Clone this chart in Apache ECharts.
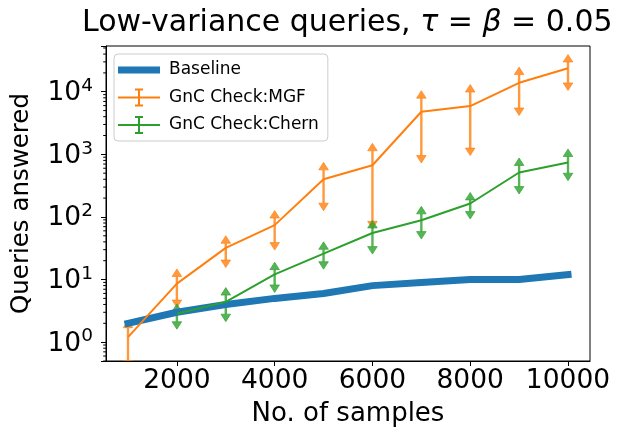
<!DOCTYPE html>
<html>
<head>
<meta charset="utf-8">
<script src="https://cdn.jsdelivr.net/npm/echarts@6/dist/echarts.min.js"></script>
<style>html,body{margin:0;padding:0;background:#fff}#c{width:618px;height:429px}</style>
</head>
<body>
<div id="c"></div>
<script>
const samples   = [1000, 2000, 3000, 4000, 5000, 6000, 7000, 8000, 9000, 10000];
const baseline  = [2, 3, 4, 5, 6, 8, 9, 10, 10, 12];
const mgf       = [1.2, 8.6, 32, 74, 400, 670, 4800, 5900, 13900, 23700];
const mgfLow    = [0.51, 4.7, 20.5, 39, 166, 85, 960, 1260, 5500, 13800];
const mgfHigh   = [1.7, 11.2, 38, 96, 565, 1140, 7900, 9900, 18800, 29900];
const chern     = [null, 2.85, 4.4, 12.1, 26, 55.5, 88.5, 164, 513, 742];
const chernLow  = [null, 2.12, 2.8, 8.2, 19.3, 33.6, 58.4, 122, 306, 500];
const chernHigh = [null, 3.1, 5.65, 14.4, 30.4, 66.7, 112, 187, 664, 925];
const xTicks    = [2000, 4000, 6000, 8000, 10000];
const seriesNames = ['Baseline', 'GnC Check:MGF', 'GnC Check:Chern'];
const titleText = 'Low-variance queries, ';
const xName = 'No. of samples';
const yName = 'Queries answered';

const X_MIN = 550, X_MAX = 10450, Y_MIN = 0.5, Y_MAX = 53800;
const FONT = 'DejaVu Sans';
const C_BLUE = '#1f77b4', C_ORANGE = '#ff7f0e', C_GREEN = '#2ca02c';

// minor log ticks (2..9 x 10^n) inside the y range
const yMinorTicks = [];
for (let e = -1; e <= 4; e++) {
  for (let k = 2; k <= 9; k++) {
    const v = k * Math.pow(10, e);
    if (v >= Y_MIN && v <= Y_MAX) yMinorTicks.push(v);
  }
}

function pairs(ys) {
  return samples.map((x, i) => [x, ys[i]]).filter(r => r[1] != null);
}
function errRows(lo, hi) {
  return samples.map((x, i) => [x, lo[i], hi[i]]).filter(r => r[1] != null);
}
function errRender(color) {
  return function (params, api) {
    const x = api.value(0), lo = api.value(1), hi = api.value(2);
    const a = api.coord([x, lo]);
    const b = api.coord([x, hi]);
    const w = 4.8, h = 7.5;
    return {
      type: 'group',
      children: [
        { type: 'line', shape: { x1: a[0], y1: a[1], x2: b[0], y2: b[1] },
          style: { stroke: color, lineWidth: 2.4, opacity: 0.8 } },
        { type: 'polygon', shape: { points: [[b[0] - w, b[1]], [b[0] + w, b[1]], [b[0], b[1] - h]] },
          style: { fill: color, stroke: color, lineWidth: 0.8, opacity: 0.8 } },
        { type: 'polygon', shape: { points: [[a[0] - w, a[1]], [a[0] + w, a[1]], [a[0], a[1] + h]] },
          style: { fill: color, stroke: color, lineWidth: 0.8, opacity: 0.8 } }
      ]
    };
  };
}

const errIcon = 'path://M0,8H42V10H0Z M20,0H22V18H20Z M17,0H25V2H17Z M17,16H25V18H17Z';

const chart = echarts.init(document.getElementById('c'), null, { renderer: 'canvas' });
chart.setOption({
  animation: false,
  backgroundColor: '#fff',
  title: {
    text: '{a|' + titleText + '}{i|τ}{a| = }{i|β}{a| = 0.05}',
    left: 82, top: 8, padding: 0,
    textStyle: {
      fontWeight: 'normal',
      rich: {
        a: { fontSize: 30, fontFamily: FONT, fontWeight: 'normal', color: '#000' },
        i: { fontSize: 30, fontFamily: FONT, fontWeight: 'normal', fontStyle: 'italic', color: '#000' }
      }
    }
  },
  grid: {
    left: 106, right: 28, top: 46, bottom: 68,
    show: true, borderColor: '#000', borderWidth: 1,
    containLabel: false, outerBoundsMode: 'none'
  },
  legend: {
    orient: 'vertical', left: 114, top: 54,
    padding: [7, 9, 7, 4], itemGap: 9.5,
    itemWidth: 42, itemHeight: 18,
    backgroundColor: 'rgba(255,255,255,0.8)', borderColor: '#cccccc', borderWidth: 1, borderRadius: 4,
    textStyle: { fontSize: 17, fontFamily: FONT, color: '#000', padding: [0, 0, 0, 4], lineHeight: 18 },
    data: [
      { name: seriesNames[0], icon: 'path://M0,0H42V7H0Z' },
      { name: seriesNames[1], icon: errIcon },
      { name: seriesNames[2], icon: errIcon }
    ]
  },
  xAxis: {
    type: 'value', min: X_MIN, max: X_MAX,
    splitLine: { show: false },
    axisLine: { show: true, lineStyle: { color: '#000', width: 1 } },
    axisTick: { show: true, customValues: xTicks, length: 5, lineStyle: { color: '#000', width: 1 } },
    axisLabel: { customValues: xTicks, formatter: v => String(v), fontSize: 26.5, fontFamily: FONT, color: '#000', margin: 7 },
    name: xName, nameLocation: 'middle', nameGap: 40,
    nameTextStyle: { fontSize: 26, fontFamily: FONT, color: '#000' }
  },
  yAxis: {
    type: 'log', logBase: 10, min: Y_MIN, max: Y_MAX,
    splitLine: { show: false },
    minorTick: { show: false },
    axisLine: { show: true, lineStyle: { color: '#000', width: 1 } },
    axisTick: { show: true, length: 5, lineStyle: { color: '#000', width: 1 } },
    axisLabel: {
      margin: 13,
      formatter: function (v) {
        const e = Math.log10(v);
        if (Math.abs(e - Math.round(e)) > 1e-6) return '';
        return '{b|10}{s|' + Math.round(e) + '}';
      },
      rich: {
        b: { fontSize: 26.5, fontFamily: FONT, color: '#000', verticalAlign: 'bottom', lineHeight: 30 },
        s: { fontSize: 18.5, fontFamily: FONT, color: '#000', verticalAlign: 'top', lineHeight: 18.5 }
      }
    },
    name: yName, nameLocation: 'middle', nameGap: 72, nameRotate: 90,
    nameTextStyle: { fontSize: 24.5, fontFamily: FONT, color: '#000' }
  },
  series: [
    {
      name: 'minorTicks', type: 'custom', silent: true, clip: false,
      data: yMinorTicks.map(v => [X_MIN, v]),
      renderItem: function (params, api) {
        const p = api.coord([api.value(0), api.value(1)]);
        const x0 = params.coordSys.x;
        return { type: 'line', shape: { x1: x0 - 2.8, y1: p[1], x2: x0, y2: p[1] },
                 style: { stroke: '#000', lineWidth: 1 } };
      }
    },
    {
      name: seriesNames[0], type: 'line', color: C_BLUE,
      data: pairs(baseline), symbol: 'none', showSymbol: false,
      lineStyle: { width: 7, color: C_BLUE, cap: 'square', join: 'round' }
    },
    {
      name: seriesNames[1], type: 'line', color: C_ORANGE,
      data: pairs(mgf), symbol: 'none', showSymbol: false,
      lineStyle: { width: 2, color: C_ORANGE }
    },
    {
      name: 'mgfErr', type: 'custom', silent: true, clip: true,
      data: errRows(mgfLow, mgfHigh), renderItem: errRender(C_ORANGE)
    },
    {
      name: seriesNames[2], type: 'line', color: C_GREEN,
      data: pairs(chern), symbol: 'none', showSymbol: false,
      lineStyle: { width: 2, color: C_GREEN }
    },
    {
      name: 'chernErr', type: 'custom', silent: true, clip: true,
      data: errRows(chernLow, chernHigh), renderItem: errRender(C_GREEN)
    }
  ]
});
</script>
</body>
</html>
